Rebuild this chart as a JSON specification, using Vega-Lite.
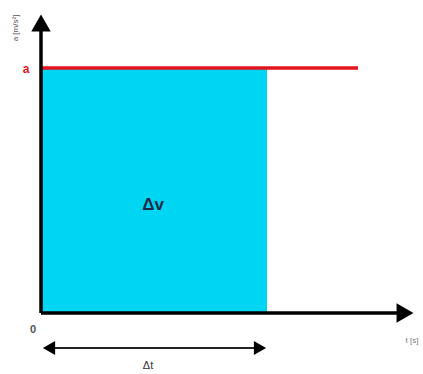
{
  "$schema": "https://vega.github.io/schema/vega-lite/v6.json",
  "width": 423,
  "height": 374,
  "padding": 0,
  "autosize": {"type": "fit", "contains": "padding"},
  "background": "white",
  "config": {"view": {"stroke": null}},
  "datasets": {
    "area": [{"t0": 0, "t1": 226, "a0": 0, "a1": 245}],
    "accel": [{"t0": 0, "t1": 317, "a": 245}],
    "yaxis": [{"t": 0, "a0": 0, "a1": 288}],
    "xaxis": [{"t0": 0, "t1": 360, "a": 0}],
    "dt": [{"t0": 6, "t1": 222, "a": -35}],
    "bigheads": [
      {"t": 0, "a": 290, "shape": "triangle-up"},
      {"t": 364, "a": 0, "shape": "triangle-right"}
    ],
    "smallheads": [
      {"t": 8, "a": -35, "shape": "triangle-left"},
      {"t": 219, "a": -35, "shape": "triangle-right"}
    ],
    "dv": [{"t": 112, "a": 108, "text": "Δv"}],
    "dtl": [{"t": 107, "a": -53, "text": "Δt"}],
    "zero": [{"t": -8, "a": -17, "text": "0"}],
    "tx": [{"t": 371, "a": -28, "text": "t [s]"}],
    "al": [{"t": -15, "a": 244, "text": "a"}],
    "ylabel": [{"t": -25, "a": 285, "text": "a [m/s²]"}]
  },
  "layer": [
    {
      "data": {"name": "area"},
      "mark": {"type": "rect", "color": "#00d6f4"},
      "encoding": {
        "x": {"field": "t0", "type": "quantitative", "scale": {"domain": [-41, 382], "nice": false, "zero": false}, "axis": null},
        "x2": {"field": "t1"},
        "y": {"field": "a0", "type": "quantitative", "scale": {"domain": [-61, 313], "nice": false, "zero": false}, "axis": null},
        "y2": {"field": "a1"}
      }
    },
    {
      "data": {"name": "accel"},
      "mark": {"type": "rule", "color": "#e3141c", "strokeWidth": 3.5},
      "encoding": {
        "x": {"field": "t0", "type": "quantitative"},
        "x2": {"field": "t1"},
        "y": {"field": "a", "type": "quantitative"}
      }
    },
    {
      "data": {"name": "yaxis"},
      "mark": {"type": "rule", "color": "black", "strokeWidth": 3.5},
      "encoding": {
        "x": {"field": "t", "type": "quantitative"},
        "y": {"field": "a0", "type": "quantitative"},
        "y2": {"field": "a1"}
      }
    },
    {
      "data": {"name": "xaxis"},
      "mark": {"type": "rule", "color": "black", "strokeWidth": 3.5},
      "encoding": {
        "x": {"field": "t0", "type": "quantitative"},
        "x2": {"field": "t1"},
        "y": {"field": "a", "type": "quantitative"}
      }
    },
    {
      "data": {"name": "dt"},
      "mark": {"type": "rule", "color": "#222222", "strokeWidth": 1.8},
      "encoding": {
        "x": {"field": "t0", "type": "quantitative"},
        "x2": {"field": "t1"},
        "y": {"field": "a", "type": "quantitative"}
      }
    },
    {
      "data": {"name": "bigheads"},
      "mark": {"type": "point", "filled": true, "color": "black", "opacity": 1, "size": 380},
      "encoding": {
        "x": {"field": "t", "type": "quantitative"},
        "y": {"field": "a", "type": "quantitative"},
        "shape": {"field": "shape", "type": "nominal", "scale": null, "legend": null}
      }
    },
    {
      "data": {"name": "smallheads"},
      "mark": {"type": "point", "filled": true, "color": "black", "opacity": 1, "size": 200},
      "encoding": {
        "x": {"field": "t", "type": "quantitative"},
        "y": {"field": "a", "type": "quantitative"},
        "shape": {"field": "shape", "type": "nominal", "scale": null, "legend": null}
      }
    },
    {
      "data": {"name": "dv"},
      "mark": {"type": "text", "font": "Liberation Sans", "fontSize": 17, "fontWeight": "bold", "color": "#1c2b45"},
      "encoding": {"x": {"field": "t", "type": "quantitative"}, "y": {"field": "a", "type": "quantitative"}, "text": {"field": "text"}}
    },
    {
      "data": {"name": "dtl"},
      "mark": {"type": "text", "font": "Liberation Sans", "fontSize": 11, "color": "#333333"},
      "encoding": {"x": {"field": "t", "type": "quantitative"}, "y": {"field": "a", "type": "quantitative"}, "text": {"field": "text"}}
    },
    {
      "data": {"name": "zero"},
      "mark": {"type": "text", "font": "Liberation Sans", "fontSize": 11, "fontWeight": "bold", "color": "#555555"},
      "encoding": {"x": {"field": "t", "type": "quantitative"}, "y": {"field": "a", "type": "quantitative"}, "text": {"field": "text"}}
    },
    {
      "data": {"name": "tx"},
      "mark": {"type": "text", "font": "Liberation Sans", "fontSize": 8, "color": "#777777"},
      "encoding": {"x": {"field": "t", "type": "quantitative"}, "y": {"field": "a", "type": "quantitative"}, "text": {"field": "text"}}
    },
    {
      "data": {"name": "al"},
      "mark": {"type": "text", "font": "Liberation Sans", "fontSize": 12, "fontWeight": "bold", "color": "#e3141c"},
      "encoding": {"x": {"field": "t", "type": "quantitative"}, "y": {"field": "a", "type": "quantitative"}, "text": {"field": "text"}}
    },
    {
      "data": {"name": "ylabel"},
      "mark": {"type": "text", "font": "Liberation Sans", "fontSize": 8, "color": "#555555", "angle": 270},
      "encoding": {
        "x": {"field": "t", "type": "quantitative"},
        "y": {"field": "a", "type": "quantitative"},
        "text": {"field": "text"}
      }
    }
  ]
}
